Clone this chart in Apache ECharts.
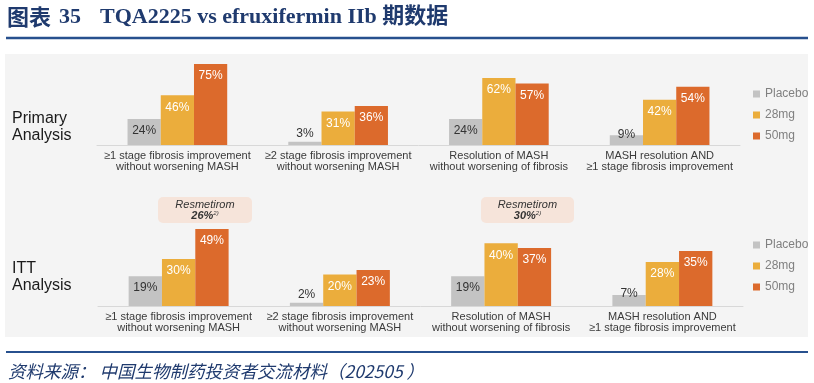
<!DOCTYPE html>
<html><head><meta charset="utf-8">
<script src="https://cdn.jsdelivr.net/npm/echarts@6/dist/echarts.min.js"></script>
<style>html,body{margin:0;padding:0;background:#fff}#c{width:814px;height:383px}</style>
</head><body><div id="c"></div>
<script>
// ---- data ----
const categories = [
  '≥1 stage fibrosis improvement\nwithout worsening MASH',
  '≥2 stage fibrosis improvement\nwithout worsening MASH',
  'Resolution of MASH\nwithout worsening of fibrosis',
  'MASH resolution AND\n≥1 stage fibrosis improvement'
];
const seriesNames = ['Placebo', '28mg', '50mg'];
const primaryPlacebo = [24, 3, 24, 9];
const primary28 = [46, 31, 62, 42];
const primary50 = [75, 36, 57, 54];
const ittPlacebo = [19, 2, 19, 7];
const itt28 = [30, 20, 40, 28];
const itt50 = [49, 23, 37, 35];
const panelTitles = ['Primary\nAnalysis', 'ITT\nAnalysis'];
const resmetiromValues = ['26%', '30%'];

// ---- style ----
const colors = ['#c3c3c3', '#ebad3c', '#dc6a2c'];
const labelColors = ['#333333', '#ffffff', '#ffffff'];
const FONT = '"Liberation Sans", Arial, sans-serif';

function mkData(arr) {
  return arr.map(v => {
    if (v < 5) return { value: v, label: { position: 'top', distance: 2, color: '#333' } };
    if (v < 10) return { value: v, label: { position: 'top', distance: -5, color: '#333' } };
    return v;
  });
}
function mkSeries(arrs, gridIdx) {
  return arrs.map((arr, i) => ({
    name: seriesNames[i],
    type: 'bar',
    xAxisIndex: gridIdx, yAxisIndex: gridIdx,
    data: mkData(arr),
    barGap: '0%',
    barCategoryGap: '38%',
    itemStyle: { color: colors[i] },
    label: {
      show: true, position: 'insideTop', distance: 6,
      formatter: '{c}%', color: labelColors[i],
      fontSize: 12, fontFamily: FONT
    },
    emphasis: { disabled: true }
  }));
}

const grids = [
  { left: 97, width: 643, top: 37, height: 108 },
  { left: 98, width: 645, top: 149, height: 157 }
];
const xAxes = grids.map((g, i) => ({
  type: 'category', gridIndex: i, data: categories,
  axisLine: { lineStyle: { color: '#d8d8d8', width: 1 } },
  axisTick: { show: false },
  axisLabel: { interval: 0, margin: 5, fontSize: 11, lineHeight: 11, color: '#3a3a3a', fontFamily: FONT }
}));
const yAxes = grids.map((g, i) => ({
  type: 'value', gridIndex: i, min: 0, max: 100, show: false, splitLine: { show: false }
}));

const legendCommon = {
  orient: 'vertical', left: 753, padding: 0, itemWidth: 7, itemHeight: 7, itemGap: 9,
  icon: 'rect', data: seriesNames,
  textStyle: { fontSize: 12, color: '#808080', fontFamily: FONT }
};

function resBox(x, y, w, h, val) {
  return {
    type: 'group',
    children: [
      { type: 'rect', shape: { x: x, y: y, width: w, height: h, r: 5 }, style: { fill: '#f6e4da' } },
      { type: 'text', x: x + w / 2, y: y + h / 2, style: {
          text: '{a|Resmetirom}\n{b|' + val + '}{s|2)}',
          align: 'center', verticalAlign: 'middle',
          rich: {
            a: { fontSize: 11, fontStyle: 'italic', fill: '#333', fontFamily: FONT, lineHeight: 11 },
            b: { fontSize: 11, fontStyle: 'italic', fontWeight: 'bold', fill: '#333', fontFamily: FONT, lineHeight: 11 },
            s: { fontSize: 6, fontStyle: 'italic', fill: '#333', fontFamily: FONT, verticalAlign: 'top', lineHeight: 11 }
          }
      } }
    ]
  };
}

const option = {
  animation: false,
  backgroundColor: '#ffffff',
  grid: grids,
  xAxis: xAxes,
  yAxis: yAxes,
  legend: [Object.assign({ top: 88 }, legendCommon), Object.assign({ top: 239 }, legendCommon)],
  series: [].concat(
    mkSeries([primaryPlacebo, primary28, primary50], 0),
    mkSeries([ittPlacebo, itt28, itt50], 1)
  ),
  graphic: [
    { type: 'rect', z: -10, silent: true, shape: { x: 5, y: 54, width: 803, height: 283 }, style: { fill: '#f4f4f4' } },
    { type: 'text', x: 7, y: 17, style: { text: '图表', font: 'bold 22px "Noto Sans CJK SC"', fill: '#1f3a6e', verticalAlign: 'middle' } },
    { type: 'text', x: 59, y: 17, style: { text: '35', font: 'bold 22px "Liberation Serif", serif', fill: '#1f3a6e', verticalAlign: 'middle' } },
    { type: 'text', x: 100, y: 17, style: { text: 'TQA2225 vs efruxifermin IIb 期数据', font: 'bold 22px "Liberation Serif", "Noto Sans CJK SC", serif', fill: '#1f3a6e', verticalAlign: 'middle' } },
    { type: 'line', shape: { x1: 6, y1: 38, x2: 808, y2: 38 }, style: { stroke: '#27508e', lineWidth: 2.5 } },
    { type: 'line', shape: { x1: 6, y1: 352, x2: 808, y2: 352 }, style: { stroke: '#27508e', lineWidth: 2 } },
    { type: 'text', x: 8, y: 371, style: { text: '资料来源： 中国生物制药投资者交流材料（202505 ）', font: 'italic 17.5px "Noto Sans CJK SC"', fill: '#1f3a6e', verticalAlign: 'middle' } },
    { type: 'text', x: 12, y: 127, style: { text: panelTitles[0], font: '16px ' + FONT, fill: '#1a1a1a', verticalAlign: 'middle', lineHeight: 17 } },
    { type: 'text', x: 12, y: 277, style: { text: panelTitles[1], font: '16px ' + FONT, fill: '#1a1a1a', verticalAlign: 'middle', lineHeight: 17 } },
    resBox(158, 197, 94, 26, resmetiromValues[0]),
    resBox(481, 197, 93, 26, resmetiromValues[1])
  ]
};

const chart = echarts.init(document.getElementById('c'), null, { renderer: 'canvas' });
chart.setOption(option);
</script>
</body></html>
